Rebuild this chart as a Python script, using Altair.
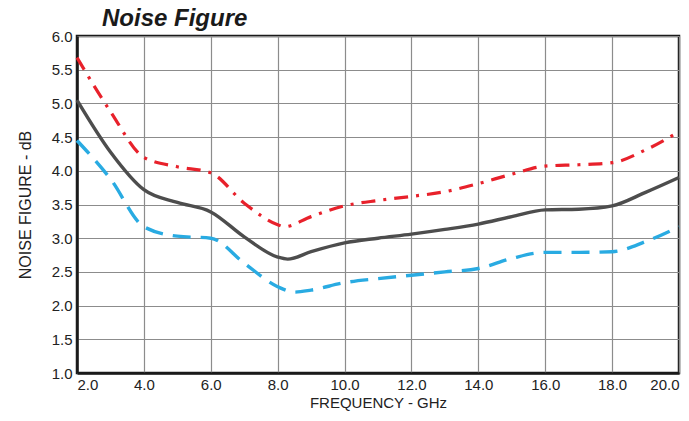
import altair as alt
import pandas as pd

# --- data ---
freq_red = [2, 3, 4, 5, 6, 7, 8, 8.2, 9, 10, 11, 12, 13, 14, 15, 16, 17, 18, 19, 20]
nf_red = [5.68, 4.88, 4.20, 4.06, 3.97, 3.52, 3.20, 3.17, 3.32, 3.48, 3.56, 3.62, 3.69, 3.81, 3.95, 4.07, 4.09, 4.12, 4.31, 4.58]

freq_gray = [2, 3, 4, 5, 6, 7, 8, 8.3, 9, 10, 11, 12, 13, 14, 15, 16, 17, 18, 19, 20]
nf_gray = [5.05, 4.28, 3.72, 3.53, 3.39, 3.02, 2.72, 2.69, 2.80, 2.93, 3.00, 3.06, 3.13, 3.21, 3.32, 3.42, 3.43, 3.48, 3.68, 3.90]

freq_blue = [2, 3, 4, 5, 6, 7, 8, 8.5, 9, 10, 11, 12, 13, 14, 15, 16, 17, 18, 19, 20]
nf_blue = [4.45, 3.88, 3.17, 3.03, 3.00, 2.63, 2.28, 2.20, 2.23, 2.34, 2.40, 2.45, 2.50, 2.55, 2.70, 2.79, 2.79, 2.80, 2.95, 3.17]

x_ticks = [2, 4, 6, 8, 10, 12, 14, 16, 18, 20]
y_ticks = [1.0, 1.5, 2.0, 2.5, 3.0, 3.5, 4.0, 4.5, 5.0, 5.5, 6.0]

chart_title = "Noise Figure"

df_red = pd.DataFrame({"f": freq_red, "nf": nf_red})
df_gray = pd.DataFrame({"f": freq_gray, "nf": nf_gray})
df_blue = pd.DataFrame({"f": freq_blue, "nf": nf_blue})

font = "Liberation Sans, Arial, sans-serif"

x_enc = alt.X(
    "f:Q",
    scale=alt.Scale(domain=[2, 20], nice=False, zero=False),
    axis=alt.Axis(
        values=x_ticks,
        format=".1f",
        title="FREQUENCY - GHz",
        ticks=False,
        labelPadding=4,
        titlePadding=3,
        titleFontSize=15,
    ),
)
y_enc = alt.Y(
    "nf:Q",
    scale=alt.Scale(domain=[1, 6], nice=False, zero=False),
    axis=alt.Axis(
        values=y_ticks,
        format=".1f",
        title="NOISE FIGURE - dB",
        ticks=False,
        labelPadding=5,
        titlePadding=18,
    ),
)

red = alt.Chart(df_red).mark_line(
    color="#e8212b", strokeWidth=3.2, strokeDash=[14, 8, 3, 8], interpolate="monotone"
).encode(x=x_enc, y=y_enc)

gray = alt.Chart(df_gray).mark_line(
    color="#4d4d4d", strokeWidth=3.4, interpolate="monotone"
).encode(x=x_enc, y=y_enc)

blue = alt.Chart(df_blue).mark_line(
    color="#29abe2", strokeWidth=3.4, strokeDash=[18, 10], interpolate="monotone"
).encode(x=x_enc, y=y_enc)

title_text = alt.Chart(pd.DataFrame({"t": [chart_title]})).mark_text(
    align="left",
    baseline="alphabetic",
    font=font,
    fontSize=24,
    fontWeight="bold",
    fontStyle="italic",
    color="#1a1a1a",
).encode(x=alt.value(25), y=alt.value(-10), text="t:N")

chart = (
    alt.layer(red, gray, blue, title_text)
    .properties(
        width=602,
        height=337,
        autosize=alt.AutoSizeParams(type="none"),
        padding={"left": 69, "top": 28, "right": 2, "bottom": 40},
    )
    .configure_view(stroke="#1a1a1a", strokeWidth=2.5, clip=False)
    .configure_axis(
        grid=True,
        gridColor="#8c8c8c",
        gridWidth=1.2,
        gridOpacity=1,
        domain=True,
        domainColor="#1a1a1a",
        domainWidth=2.5,
        labelFont=font,
        labelFontSize=15,
        labelColor="#222222",
        titleFont=font,
        titleFontSize=16,
        titleFontWeight="normal",
        titleColor="#222222",
    )
)

chart.save("out.html", embed_options={"renderer": "svg", "actions": False})
